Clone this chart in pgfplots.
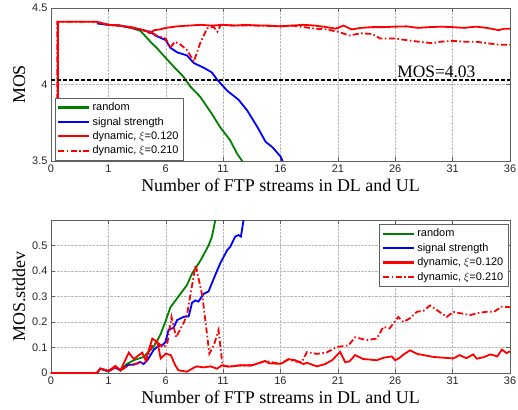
\documentclass[border=0pt]{standalone}
\usepackage{fontspec}
\setmainfont{Liberation Serif}
\newfontfamily\arial{Liberation Sans}
\usepackage{pgfplots}
\pgfplotsset{compat=1.18}
\definecolor{mgreen}{rgb}{0,0.5,0}
\pgfplotsset{
  legend image code/.code={\draw[#1, line width=2.2bp] (0bp,0bp) -- (31bp,0bp);},
  mystyle/.style={
    width=459bp, height=153bp, scale only axis,
    xmin=-4, xmax=36,
    xtick={-4,1,6,11,16,21,26,31,36},
    xticklabels={0,1,6,11,16,21,26,31,36},
    grid=major,
    grid style={densely dotted, gray!55, line width=0.5pt},
    axis line style={gray!75!black, line width=0.5pt},
    tick style={gray!75!black, line width=0.5pt},
    tick align=inside,
    major tick length=4bp,
    /pgf/number format/assume math mode=true,
    tick label style={font=\arial\fontsize{11}{11}\selectfont, text=black!85},
    label style={font=\fontsize{18}{18}\selectfont},
    xlabel={Number of FTP streams in DL and UL},
    legend cell align=left,
    legend style={font=\arial\fontsize{11}{13}\selectfont, draw=gray!75!black, inner sep=2.5pt, row sep=1pt},
  },
  cg/.style={mgreen, line width=1.8bp},
  cb/.style={blue, line width=1.8bp},
  cr/.style={red, line width=1.8bp},
  crd/.style={red, line width=1.8bp, dash pattern=on 6bp off 2.5bp on 1.5bp off 2.5bp},
}
\begin{document}
\begin{tikzpicture}[x=1bp,y=1bp]
% ---------------- top axis ----------------
\begin{axis}[mystyle, at={(0bp,212bp)}, anchor=south west,
  ymin=3.5, ymax=4.5, ytick={3.5,4,4.5},
  ylabel={MOS},
  legend style={at={(0.008,0.006)}, anchor=south west}]
\addplot[cg] coordinates {(0,4.40) (1,4.39) (2,4.385) (3,4.37) (3.8,4.35) (4.3,4.31) (4.65,4.28) (5.2,4.24) (5.8,4.19) (6.7,4.116) (7.55,4.05) (8.15,3.986) (9,3.92) (10,3.81) (10.75,3.72) (11.6,3.637) (12.2,3.55) (12.66,3.50) (13,3.45)};
\addlegendentry{random}
\addplot[cb] coordinates {(0,4.40) (1,4.39) (2,4.385) (3,4.37) (3.8,4.36) (4.2,4.35) (4.65,4.345) (5.1,4.32) (6,4.29) (6.4,4.24) (7,4.21) (7.85,4.19) (8.45,4.14) (9.3,4.11) (10,4.08) (10.5,4.03) (11.35,3.96) (12.35,3.90) (13.1,3.83) (14,3.72) (14.7,3.626) (15.3,3.59) (16,3.53) (16.3,3.48)};
\addlegendentry{signal strength}
\addplot[cr] coordinates {(-3.4,3.0) (-3.4,4.41) (0,4.41) (1,4.39) (2,4.385) (3,4.375) (3.8,4.36) (4.3,4.35) (4.6,4.335) (5.0,4.355) (5.5,4.36) (6,4.37) (7,4.38) (8,4.385) (9,4.39) (10,4.385) (11,4.39) (12,4.385) (13,4.39) (14,4.385) (15,4.385) (16,4.38) (17,4.385) (18,4.39) (19,4.385) (20,4.375) (20.8,4.365) (21.5,4.385) (22.2,4.36) (23,4.37) (24,4.375) (25,4.375) (26,4.378) (27,4.38) (28,4.37) (29,4.375) (30,4.378) (31,4.375) (32,4.37) (33,4.378) (34,4.37) (35,4.355) (35.5,4.365) (36,4.365)};
\addlegendentry{dynamic, $\xi$=0.120}
\addplot[crd] coordinates {(-3.45,3.0) (-3.45,4.41) (0,4.41) (1,4.39) (2,4.385) (3,4.37) (4,4.355) (4.65,4.345) (5.2,4.32) (6,4.30) (6.4,4.24) (6.8,4.28) (7.3,4.26) (7.85,4.225) (8.45,4.15) (9,4.27) (9.6,4.367) (10.15,4.378) (10.5,4.345) (10.8,4.39) (12,4.385) (14,4.385) (16,4.38) (17,4.385) (18,4.375) (19,4.365) (20,4.36) (21,4.345) (22,4.32) (23,4.335) (24,4.33) (24.7,4.30) (26,4.30) (27,4.29) (28,4.28) (29.2,4.27) (30,4.28) (31,4.285) (32,4.28) (33,4.28) (34,4.27) (35,4.26) (36,4.26)};
\addlegendentry{dynamic, $\xi$=0.210}
\addplot[black, line width=1.3bp, dash pattern=on 4bp off 2bp, forget plot] coordinates {(-4,4.03) (36,4.03)};
\node[anchor=base west, inner sep=0pt, font=\fontsize{17.5}{17.5}\selectfont] at (axis cs:26.16,4.045) {MOS=4.03};
\end{axis}
% ---------------- bottom axis ----------------
\begin{axis}[mystyle, at={(0bp,0bp)}, anchor=south west,
  ymin=0, ymax=0.6, ytick={0,0.1,0.2,0.3,0.4,0.5},
  ylabel={MOS.stddev},
  legend style={at={(0.9956,0.972)}, anchor=north east}]
\addplot[cg] coordinates {(-4,0) (0,0) (0.3,0.017) (1.0,0.008) (1.6,0.025) (2.05,0.012) (2.6,0.035) (3.2,0.05) (4.07,0.063) (4.66,0.09) (4.94,0.102) (5.53,0.15) (5.96,0.2) (6.4,0.257) (7.27,0.31) (7.85,0.345) (8.29,0.39) (9.01,0.44) (9.45,0.476) (9.73,0.50) (10.03,0.535) (10.32,0.60) (10.4,0.63)};
\addlegendentry{random}
\addplot[cb] coordinates {(-4,0) (0,0) (0.3,0.017) (1.0,0.006) (1.6,0.022) (2.05,0.01) (2.78,0.033) (3.2,0.032) (3.78,0.043) (4.07,0.035) (4.4,0.05) (4.94,0.09) (5.27,0.103) (5.7,0.11) (5.96,0.12) (6.25,0.17) (6.69,0.177) (6.98,0.207) (7.56,0.22) (8.0,0.222) (8.29,0.275) (8.57,0.285) (8.85,0.28) (9.3,0.31) (9.73,0.32) (10.32,0.385) (10.75,0.43) (11.33,0.48) (11.62,0.495) (12.06,0.535) (12.34,0.541) (12.55,0.535) (12.78,0.60) (12.9,0.63)};
\addlegendentry{signal strength}
\addplot[cr] coordinates {(-4,0) (0,0) (0.3,0.017) (1.03,0.008) (1.61,0.028) (2.05,0.01) (2.78,0.08) (3.22,0.055) (3.95,0.08) (4.25,0.05) (4.83,0.135) (5.27,0.122) (5.56,0.057) (6.0,0.076) (6.44,0.07) (6.83,0.03) (7.1,0.011) (7.85,0.005) (8.3,0.017) (8.7,0.026) (9.3,0.022) (9.9,0.026) (10.47,0.017) (10.9,0.03) (11.5,0.025) (12.5,0.03) (13.5,0.03) (14.67,0.047) (15.0,0.038) (15.97,0.036) (16.2,0.04) (16.7,0.054) (17.3,0.05) (18.0,0.035) (18.3,0.04) (19.17,0.026) (19.9,0.035) (20.5,0.05) (21.2,0.083) (21.63,0.043) (22.0,0.045) (22.5,0.07) (23.2,0.055) (24.39,0.05) (25.0,0.06) (25.7,0.065) (26.0,0.05) (26.4,0.06) (26.71,0.072) (27.29,0.089) (27.9,0.075) (28.5,0.07) (29.32,0.063) (30.2,0.06) (31.06,0.057) (31.6,0.07) (32.2,0.058) (32.8,0.073) (33.1,0.056) (33.7,0.062) (34.3,0.073) (34.9,0.065) (35.3,0.092) (35.7,0.078) (36,0.085)};
\addlegendentry{dynamic, $\xi$=0.120}
\addplot[crd] coordinates {(-4,0) (0,0) (0.3,0.017) (1.03,0.008) (1.61,0.022) (2.05,0.01) (2.78,0.03) (3.22,0.035) (3.95,0.04) (4.25,0.045) (4.83,0.11) (5.27,0.12) (5.8,0.10) (6.15,0.12) (6.5,0.22) (6.9,0.14) (7.6,0.20) (7.9,0.24) (8.6,0.425) (9.2,0.30) (9.6,0.15) (9.8,0.076) (10.2,0.11) (10.6,0.168) (10.95,0.03) (11.5,0.025) (12.5,0.03) (13.5,0.03) (14.67,0.047) (15.97,0.036) (16.7,0.054) (17.3,0.045) (17.86,0.043) (18.3,0.082) (19.17,0.075) (20.0,0.08) (20.91,0.102) (21.92,0.108) (22.5,0.14) (23.52,0.129) (24.39,0.135) (24.97,0.181) (25.5,0.175) (25.84,0.194) (26.27,0.22) (26.71,0.2) (27.29,0.215) (27.88,0.24) (28.5,0.245) (29.03,0.265) (29.62,0.247) (30.49,0.22) (31.06,0.24) (31.6,0.235) (32.52,0.227) (33.2,0.235) (33.97,0.24) (34.6,0.24) (35.28,0.26) (36,0.258)};
\addlegendentry{dynamic, $\xi$=0.210}
\end{axis}
\pgfresetboundingbox
\path[use as bounding box] (-51bp,-37bp) rectangle (467bp,373bp);
\end{tikzpicture}
\end{document}
